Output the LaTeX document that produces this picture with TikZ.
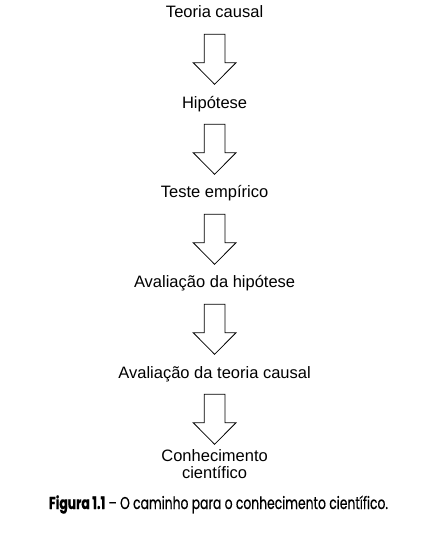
\documentclass[tikz,border=0pt]{standalone}
\usepackage{fontspec}
\setmainfont{Liberation Sans}
\newfontfamily\capfont[FakeStretch=0.72,FakeBold=0.5,Ligatures=TeX]{Poppins}
\begin{document}
\begin{tikzpicture}[x=1pt,y=1pt,
  lbl/.style={inner sep=0pt, anchor=base, font=\fontsize{16.5}{16.5}\selectfont, align=center},
  downarrow/.pic={\draw[line width=0.8pt, line join=miter]
      (-10.4,0) -- (10.4,0) -- (10.4,-28.4) -- (21.4,-28.4) -- (0,-50) --
      (-21.4,-28.4) -- (-10.4,-28.4) -- cycle;}]
\useasboundingbox[fill=white] (0,0) rectangle (430,-549);
\def\cx{214.6}
\node[lbl] (t1) at (\cx,-17.5) {Teoria causal};
\node[lbl] (t2) at (\cx,-108) {Hipótese};
\node[lbl] (t3) at (\cx,-197) {Teste empírico};
\node[lbl] (t4) at (\cx,-287.5) {Avaliação da hipótese};
\node[lbl] (t5) at (\cx,-378) {Avaliação da teoria causal};
\node[lbl, anchor=center] (t6) at (\cx,-464) {Conhecimento\\científico};
\pic (a1) at (\cx,-34.3) {downarrow};
\pic (a2) at (\cx,-124.3) {downarrow};
\pic (a3) at (\cx,-214.3) {downarrow};
\pic (a4) at (\cx,-304.3) {downarrow};
\pic (a5) at (\cx,-394.3) {downarrow};
\node[inner sep=0pt, anchor=base] (cap) at (218.5,-509)
  {\resizebox{339pt}{!}{\capfont\fontsize{15}{17}\selectfont\textbf{Figura 1.1} – O caminho para o conhecimento científico.}};
\end{tikzpicture}
\end{document}
